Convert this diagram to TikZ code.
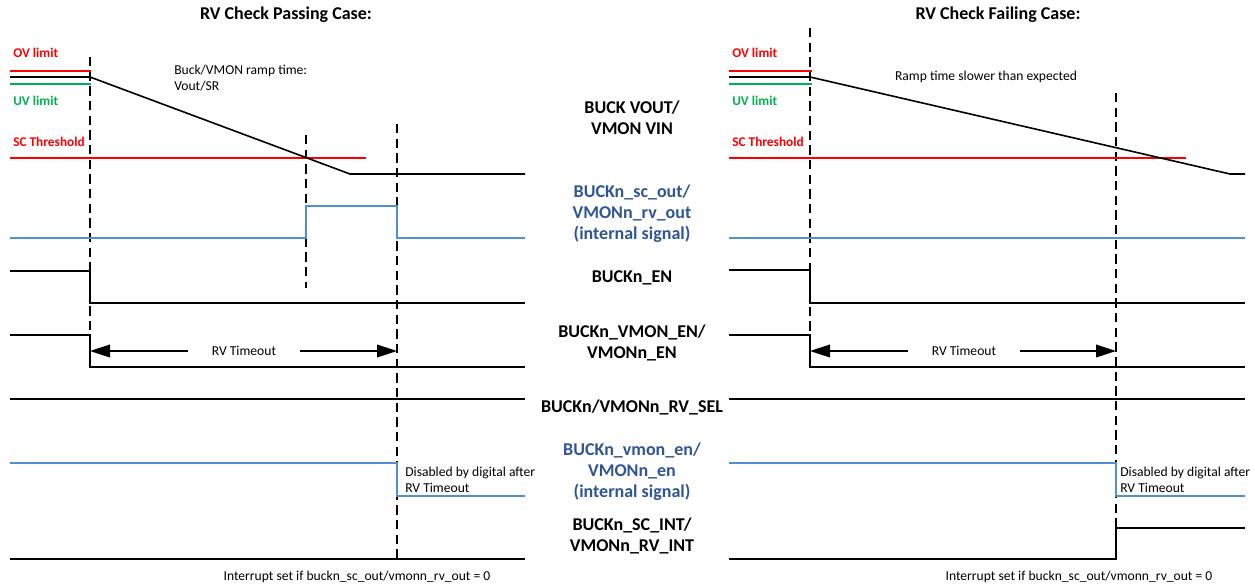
\documentclass[tikz,border=0pt]{standalone}
\definecolor{LimRed}{RGB}{255,0,0}
\definecolor{LimGreen}{RGB}{0,176,80}
\definecolor{SigBlue}{RGB}{84,141,212}
\definecolor{LblBlue}{RGB}{47,85,151}
\usepackage{fontspec}
\setmainfont{Carlito}
\usepackage{tikz}
\usetikzlibrary{arrows.meta, positioning, calc}

\begin{document}
\begin{tikzpicture}[x=0.75pt, y=-0.75pt,
	sig/.style={line width=1.2pt, black},
	isig/.style={line width=1.1pt, SigBlue},
	limln/.style={line width=1.2pt},
	evt/.style={line width=1.1pt, dash pattern=on 7pt off 4pt},
	lbl/.style={font=\fontsize{13.5}{15.75}\selectfont\bfseries, align=center, inner sep=0pt},
	ttl/.style={font=\fontsize{13.5}{15.75}\selectfont\bfseries, inner sep=0pt},
	limtxt/.style={font=\fontsize{10}{12}\selectfont\bfseries, anchor=west, inner sep=0pt},
	note/.style={font=\fontsize{10.2}{12}\selectfont, align=left, inner sep=0pt},
	tmo/.style={-{Triangle[length=15pt, width=9.5pt]}, line width=1.2pt}]
	\useasboundingbox (0,0) rectangle (1255,586);
	% passing case
	\begin{scope}
		\node[ttl] (ttlP) at (286,15) {RV Check Passing Case:};
		\coordinate (p1) at (90,57); \coordinate (p2) at (306,135); \coordinate (p3) at (397,124);
		\draw[evt] (p1) -- (90,367); \draw[evt] (p2) -- (306,288); \draw[evt] (p3) -- (397,560);
		\node[limtxt, text=LimRed] (ovP) at (13,53) {OV limit};
		\node[limtxt, text=LimGreen] (uvP) at (13,101) {UV limit};
		\node[limtxt, text=LimRed] (scP) at (13,142) {SC Threshold};
		\draw[limln, LimRed] (10,71) -- (91,71);
		\draw[limln, LimGreen] (10,84) -- (91,84);
		\draw[limln, LimRed] (10,158) -- (366,158);
		\draw[sig] (10,77) -- (90,77) -- (350,174) -- (525,174);
		\node[note, anchor=west] (rampP) at (174,78) {Buck/VMON ramp time:\\Vout/SR};
		\draw[isig] (10,238) -- (306,238) -- (306,206) -- (397,206) -- (397,238) -- (525,238);
		\draw[sig] (10,271) -- (90,271) -- (90,303) -- (525,303);
		\draw[sig] (10,335) -- (90,335) -- (90,367) -- (525,367);
		\node[note, inner xsep=18pt] (tmoP) at (244,351) {RV Timeout};
		\draw[tmo] (tmoP.west) -- (tmoP.west -| p1);
		\draw[tmo] (tmoP.east) -- (tmoP.east -| p3);
		\draw[sig] (10,399) -- (525,399);
		\draw[isig] (10,463) -- (397,463) -- (397,496) -- (525,496);
		\node[note, anchor=west] (disP) at (405,480) {Disabled by digital after\\RV Timeout};
		\draw[sig] (10,559) -- (525,559);
		\node[note] (intP) at (357,577) {Interrupt set if buckn\_sc\_out/vmonn\_rv\_out = 0};
	\end{scope}
	% failing case
	\begin{scope}[xshift=540pt]
		\node[ttl] (ttlF) at (278,15) {RV Check Failing Case:};
		\coordinate (f1) at (90,28); \coordinate (f2) at (396,93);
		\draw[evt] (f1) -- (90,367); \draw[evt] (f2) -- (396,559);
		\node[limtxt, text=LimRed] (ovF) at (12,53) {OV limit};
		\node[limtxt, text=LimGreen] (uvF) at (12,101) {UV limit};
		\node[limtxt, text=LimRed] (scF) at (12,142) {SC Threshold};
		\draw[limln, LimRed] (9,71) -- (92,71);
		\draw[limln, LimGreen] (9,84) -- (92,84);
		\draw[limln, LimRed] (9,158) -- (466,158);
		\draw[sig] (9,77) -- (90,77) -- (510,174) -- (525,174);
		\node[note] (rampF) at (266,77) {Ramp time slower than expected};
		\draw[isig] (9,238) -- (525,238);
		\draw[sig] (9,270) -- (90,270) -- (90,303) -- (525,303);
		\draw[sig] (9,335) -- (90,335) -- (90,367) -- (525,367);
		\node[note, inner xsep=18pt] (tmoF) at (244,351) {RV Timeout};
		\draw[tmo] (tmoF.west) -- (tmoF.west -| f1);
		\draw[tmo] (tmoF.east) -- (tmoF.east -| f2);
		\draw[sig] (9,399) -- (525,399);
		\draw[isig] (9,463) -- (396,463) -- (396,496) -- (525,496);
		\node[note, anchor=west] (disF) at (400,480) {Disabled by digital after\\RV Timeout};
		\draw[sig] (9,559) -- (396,559) -- (396,528) -- (525,528);
		\node[note] (intF) at (359,577) {Interrupt set if buckn\_sc\_out/vmonn\_rv\_out = 0};
	\end{scope}
	% signal names
	\node[lbl] (vout) at (632,117.5) {BUCK VOUT/\\VMON VIN};
	\node[lbl, text=LblBlue] (scout) at (632,214) {BUCKn\_sc\_out/\\VMONn\_rv\_out\\(internal signal)};
	\node[lbl] (en) at (632,278) {BUCKn\_EN};
	\node[lbl] (vmonen) at (632,342.5) {BUCKn\_VMON\_EN/\\VMONn\_EN};
	\node[lbl] (rvsel) at (632,407) {BUCKn/VMONn\_RV\_SEL};
	\node[lbl, text=LblBlue] (ivmonen) at (632,471.5) {BUCKn\_vmon\_en/\\VMONn\_en\\(internal signal)};
	\node[lbl] (scint) at (632,535.5) {BUCKn\_SC\_INT/\\VMONn\_RV\_INT};
\end{tikzpicture}
\end{document}
